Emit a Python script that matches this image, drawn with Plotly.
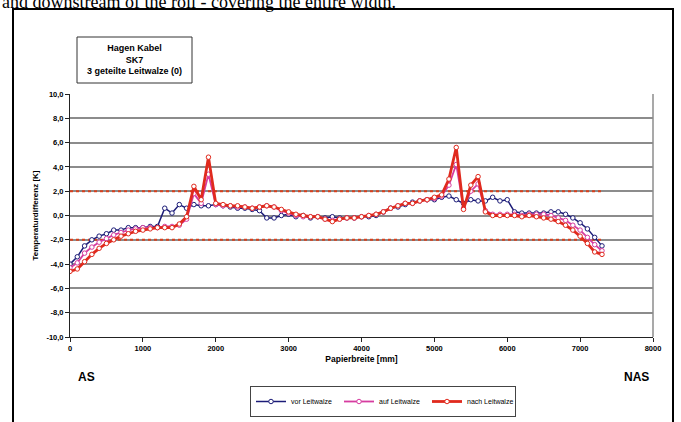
import plotly.graph_objects as go

x_mm = list(range(0, 7400, 100))

vor = [-4.0, -3.4, -2.5, -2.0, -1.7, -1.5, -1.2, -1.2, -1.0, -1.0,
       -1.0, -0.9, -0.9, 0.6, 0.2, 0.9, 0.6, 0.9, 0.8, 0.8,
       0.9, 0.8, 0.7, 0.6, 0.6, 0.5, 0.4, -0.2, -0.2, 0.0,
       0.1, -0.1, 0.0, -0.2, -0.1, -0.2, -0.1, -0.2, -0.2, -0.2,
       -0.1, -0.1, 0.0, 0.3, 0.6, 0.7, 0.9, 1.1, 1.2, 1.3,
       1.3, 1.5, 1.6, 1.3, 1.0, 1.3, 1.2, 1.2, 1.5, 1.2,
       1.3, 0.3, 0.2, 0.2, 0.2, 0.2, 0.3, 0.3, 0.1, -0.2,
       -0.6, -1.1, -1.8, -2.5]

auf = [-4.3, -3.9, -3.1, -2.6, -2.2, -1.9, -1.6, -1.4, -1.2, -1.1,
       -1.0, -1.0, -1.0, -0.9, -0.9, -0.8, -0.3, 1.8, 1.0, 3.4,
       0.9, 0.8, 0.8, 0.7, 0.7, 0.6, 0.7, 0.8, 0.7, 0.4,
       0.2, 0.0, -0.1, -0.1, -0.1, -0.3, -0.4, -0.3, -0.2, -0.2,
       -0.1, 0.0, 0.1, 0.3, 0.6, 0.8, 1.0, 1.0, 1.2, 1.3,
       1.4, 1.6, 2.5, 4.2, 0.6, 2.0, 2.6, 0.4, 0.1, 0.1,
       0.1, 0.1, 0.0, 0.1, 0.1, 0.1, 0.0, -0.2, -0.4, -0.8,
       -1.2, -1.8, -2.4, -2.9]

nach = [-4.6, -4.4, -3.8, -3.2, -2.7, -2.3, -2.0, -1.7, -1.5, -1.3,
        -1.2, -1.1, -1.0, -1.0, -1.0, -0.7, -0.1, 2.4, 1.3, 4.8,
        1.0, 0.9, 0.8, 0.8, 0.7, 0.6, 0.7, 0.8, 0.7, 0.5,
        0.3, 0.1, 0.0, -0.1, -0.1, -0.3, -0.5, -0.3, -0.2, -0.2,
        -0.1, 0.0, 0.1, 0.3, 0.6, 0.8, 1.0, 1.0, 1.2, 1.3,
        1.5, 1.7, 3.0, 5.6, 0.5, 2.5, 3.2, 0.3, 0.0, 0.0,
        0.0, 0.0, -0.1, 0.0, -0.1, -0.2, -0.3, -0.5, -0.8, -1.2,
        -1.7, -2.3, -3.0, -3.2]

limit_x = [0, 7300]
limit_hi = [2.0, 2.0]
limit_lo = [-2.0, -2.0]

y_ticks = [10, 8, 6, 4, 2, 0, -2, -4, -6, -8, -10]
y_ticktext = ["10,0", "8,0", "6,0", "4,0", "2,0", "0,0", "-2,0", "-4,0", "-6,0", "-8,0", "-10,0"]
x_ticks = [0, 1000, 2000, 3000, 4000, 5000, 6000, 7000, 8000]
x_ticktext = [str(v) for v in x_ticks]

series_names = ["vor Leitwalze", "auf Leitwalze", "nach Leitwalze"]
series_colors = ["#1c1c78", "#d63ca0", "#e02a1e"]
series_widths = [1.5, 1.8, 2.8]

NARROW = "Liberation Sans Narrow, Arial Narrow, Liberation Sans, Arial"

fig = go.Figure()

for yv in (limit_hi, limit_lo):
    fig.add_trace(go.Scatter(x=limit_x, y=yv, mode="lines",
                             line=dict(color="#d8401c", width=2, dash="dot"),
                             showlegend=False, hoverinfo="skip"))

for name, vals, col, w in zip(series_names, [vor, auf, nach], series_colors, series_widths):
    fig.add_trace(go.Scatter(
        x=x_mm, y=vals, mode="lines+markers", name=name,
        line=dict(color=col, width=w),
        marker=dict(symbol="circle", size=4.5, color="white",
                    line=dict(color=col, width=1)),
    ))

L, R, T, B = 70, 28, 94, 85
W, H = 681, 422
pw = W - L - R
ph = H - T - B

def px_x(p):
    return (p - L) / pw

def px_y(p):
    return (H - B - p) / ph

fig.update_layout(
    width=W, height=H,
    margin=dict(l=L, r=R, t=T, b=B, autoexpand=False),
    paper_bgcolor="white", plot_bgcolor="white",
    font=dict(family=NARROW, color="black"),
    xaxis=dict(range=[0, 8000], tickvals=x_ticks, ticktext=x_ticktext,
               automargin=False,
               showgrid=False, zeroline=False, showline=True,
               linecolor="#222", linewidth=1, mirror=False,
               ticks="outside", ticklen=4, tickcolor="#222",
               tickfont=dict(size=7.5, family=NARROW, weight="bold"),
               title=dict(text="<b>Papierbreite [mm]</b>", standoff=4,
                          font=dict(size=8.5, family=NARROW))),
    yaxis=dict(range=[-10, 10], tickvals=y_ticks, ticktext=y_ticktext,
               automargin=False,
               showgrid=True, gridcolor="#8c8c8c", gridwidth=1.5,
               zeroline=False, showline=True, linecolor="#222", linewidth=1,
               ticks="outside", ticklen=4, tickcolor="#222",
               tickfont=dict(size=7.5, family=NARROW, weight="bold"),
               title=dict(text="<b>Temperaturdifferenz [K]</b>", standoff=6,
                          font=dict(size=8, family=NARROW))),
    legend=dict(orientation="h", x=383 / W, xanchor="center", xref="container",
                y=1 - 386 / H, yanchor="top", yref="container",
                bordercolor="#444", borderwidth=1, bgcolor="white",
                font=dict(size=7, family=NARROW),
                itemwidth=30, tracegroupgap=0,
                entrywidth=43, entrywidthmode="pixels"),
    showlegend=True,
)

shapes = [
    # outer chart border
    dict(type="rect", xref="paper", yref="paper",
         x0=px_x(13), x1=px_x(673), y0=px_y(440), y1=px_y(9),
         line=dict(color="black", width=2), fillcolor="rgba(0,0,0,0)", layer="above"),
    # plot right border
    dict(type="line", xref="paper", yref="paper", x0=1, x1=1, y0=0, y1=1,
         line=dict(color="#8c8c8c", width=1.5)),
    # info box
    dict(type="rect", xref="paper", yref="paper",
         x0=px_x(77), x1=px_x(192), y0=px_y(83), y1=px_y(37),
         line=dict(color="#333", width=1), fillcolor="white"),
]
fig.update_layout(shapes=shapes)

fig.add_annotation(xref="paper", yref="paper", x=px_x(134), y=px_y(60),
                   text="<b>Hagen Kabel<br>SK7<br>3 geteilte Leitwalze (0)</b>",
                   showarrow=False, font=dict(size=9, family=NARROW),
                   align="center", xanchor="center", yanchor="middle")
fig.add_annotation(xref="paper", yref="paper", x=px_x(86), y=px_y(377),
                   text="<b>AS</b>", showarrow=False,
                   font=dict(size=12, family="Liberation Sans, Arial"),
                   xanchor="center", yanchor="middle")
fig.add_annotation(xref="paper", yref="paper", x=px_x(636), y=px_y(377),
                   text="<b>NAS</b>", showarrow=False,
                   font=dict(size=12, family="Liberation Sans, Arial"),
                   xanchor="center", yanchor="middle")
fig.add_annotation(xref="paper", yref="paper", x=px_x(0), y=px_y(2),
                   text="and downstream of the roll - covering the entire width.",
                   showarrow=False,
                   font=dict(size=18, family="Liberation Serif, Times New Roman"),
                   xanchor="left", yanchor="middle")

fig.write_html("out.html", config={"displayModeBar": False},
               post_script="document.body.style.margin='0';")
